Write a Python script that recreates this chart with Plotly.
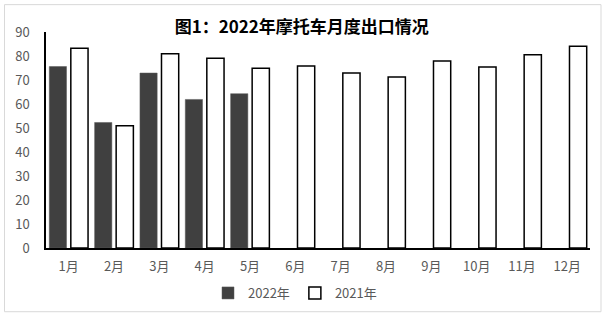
import plotly.graph_objects as go

months = ["1月", "2月", "3月", "4月", "5月", "6月", "7月", "8月", "9月", "10月", "11月", "12月"]
v2022 = [75.6, 52.3, 72.9, 61.9, 64.3, None, None, None, None, None, None, None]
v2021 = [83.2, 50.9, 80.9, 79.1, 74.9, 75.8, 72.9, 71.2, 77.9, 75.4, 80.5, 84.1]
yticks = [0, 10, 20, 30, 40, 50, 60, 70, 80, 90]

W, H = 606, 319
L, R, T, B = 46, 16, 32, 70

fig = go.Figure()
fig.add_trace(go.Bar(x=months, y=v2022, name="2022年",
                     marker=dict(color="#404040", line=dict(color="#595959", width=0.5))))
fig.add_trace(go.Bar(x=months, y=v2021, name="2021年",
                     marker=dict(color="#ffffff", line=dict(color="#000000", width=1.5))))

pw = W - L - R
ph = H - T - B
def px2x(p):
    return (p - L) / pw
def py2y(p):
    return (H - B - p) / ph

fig.add_shape(type="rect", xref="paper", yref="paper",
              x0=px2x(4.5), x1=px2x(601), y0=py2y(313), y1=py2y(4.5),
              line=dict(color="#d9d9d9", width=1), fillcolor="rgba(0,0,0,0)", layer="below")

tickfont = dict(family="Noto Sans CJK JP", size=13, color="#595959")
fig.update_layout(
    width=W, height=H,
    margin=dict(l=L, r=R, t=T, b=B, pad=0),
    paper_bgcolor="white", plot_bgcolor="white",
    barmode="group", bargap=0.05, bargroupgap=0.2,
    title=dict(text="<b>图1：2022年摩托车月度出口情况</b>", x=0.498, xanchor="center",
               y=1 - 27 / H, yanchor="middle",
               font=dict(family="Noto Sans CJK SC", size=17, color="#000000")),
    showlegend=True,
    legend=dict(orientation="h", x=px2x(295), xanchor="center", y=py2y(293), yanchor="middle",
                font=tickfont, itemwidth=30, traceorder="normal", bgcolor="rgba(0,0,0,0)"),
    xaxis=dict(showline=True, linecolor="#000000", linewidth=1.5, showgrid=False,
               ticks="", tickfont=tickfont, ticklabelstandoff=6),
    yaxis=dict(range=[0, 90], tickvals=yticks, showline=True, linecolor="#000000", linewidth=1.5,
               showgrid=False, zeroline=False, ticks="", tickfont=tickfont, ticklabelstandoff=12),
)

fig.write_html("out.html")
